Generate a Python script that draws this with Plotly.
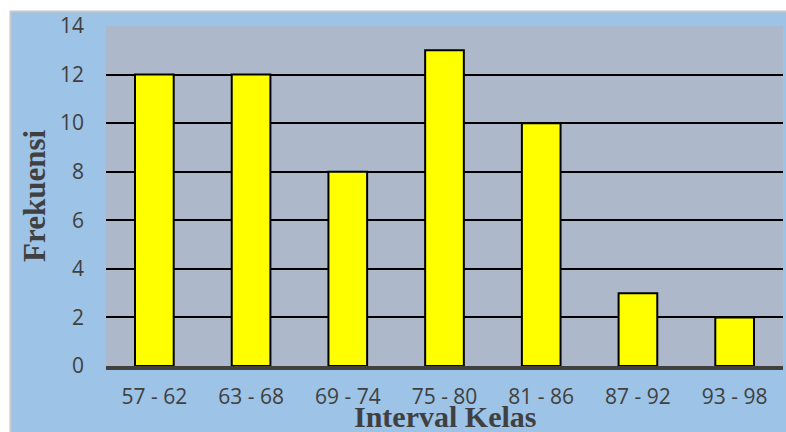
import plotly.graph_objects as go

# Frequency distribution of the class intervals
intervals = ["57 - 62", "63 - 68", "69 - 74", "75 - 80", "81 - 86", "87 - 92", "93 - 98"]
frekuensi = [12, 12, 8, 13, 10, 3, 2]
y_ticks = [0, 2, 4, 6, 8, 10, 12, 14]

W, H = 786, 432
L, R, T, B = 106, 3, 26, 66
pw, ph = W - L - R, H - T - B


def px_x(x):
    return (x - L) / pw


def px_y(y):
    return (H - B - y) / ph


fig = go.Figure(
    go.Bar(
        x=intervals,
        y=frekuensi,
        width=0.4,
        marker=dict(color="#FFFF00", line=dict(color="#000000", width=2)),
        hoverinfo="x+y",
    )
)

text_col = "#404040"
tick_font = dict(family="Open Sans", size=21, color=text_col)

fig.update_layout(
    width=W,
    height=H,
    margin=dict(l=L, r=R, t=T, b=B),
    paper_bgcolor="#9DC3E6",
    plot_bgcolor="#ADB9CA",
    showlegend=False,
    xaxis=dict(
        showgrid=False,
        showline=True,
        linecolor=text_col,
        linewidth=4,
        tickfont=tick_font,
        ticks="",
        ticklabelstandoff=9,
    ),
    yaxis=dict(
        range=[0, 14],
        tickvals=y_ticks,
        showgrid=True,
        gridcolor="#000000",
        gridwidth=2,
        zeroline=False,
        showline=False,
        tickfont=tick_font,
        ticks="",
        ticklabelstandoff=21,
    ),
    annotations=[
        dict(
            text="<b>Interval Kelas</b>",
            xref="paper", yref="paper",
            x=0.5, y=px_y(416),
            xanchor="center", yanchor="middle",
            showarrow=False,
            font=dict(family="Liberation Serif", size=30, color=text_col),
        ),
        dict(
            text="<b>Frekuensi</b>",
            xref="paper", yref="paper",
            x=px_x(34), y=0.5,
            xanchor="center", yanchor="middle",
            textangle=-90,
            showarrow=False,
            font=dict(family="Liberation Serif", size=31, color=text_col),
        ),
    ],
    shapes=[
        # white margin strips along the top and left edges, with a thin grey rule
        dict(type="rect", xref="paper", yref="paper",
             x0=px_x(0), x1=px_x(W), y0=px_y(11), y1=px_y(0),
             fillcolor="#FFFFFF", line=dict(width=0), layer="above"),
        dict(type="rect", xref="paper", yref="paper",
             x0=px_x(0), x1=px_x(10), y0=px_y(H), y1=px_y(0),
             fillcolor="#FFFFFF", line=dict(width=0), layer="above"),
        dict(type="line", xref="paper", yref="paper",
             x0=px_x(10), x1=px_x(W), y0=px_y(11.5), y1=px_y(11.5),
             line=dict(color="#C8C8C8", width=2), layer="above"),
        dict(type="line", xref="paper", yref="paper",
             x0=px_x(10.5), x1=px_x(10.5), y0=px_y(H), y1=px_y(11),
             line=dict(color="#C8C8C8", width=2), layer="above"),
    ],
)

fig.write_html("out.html")
